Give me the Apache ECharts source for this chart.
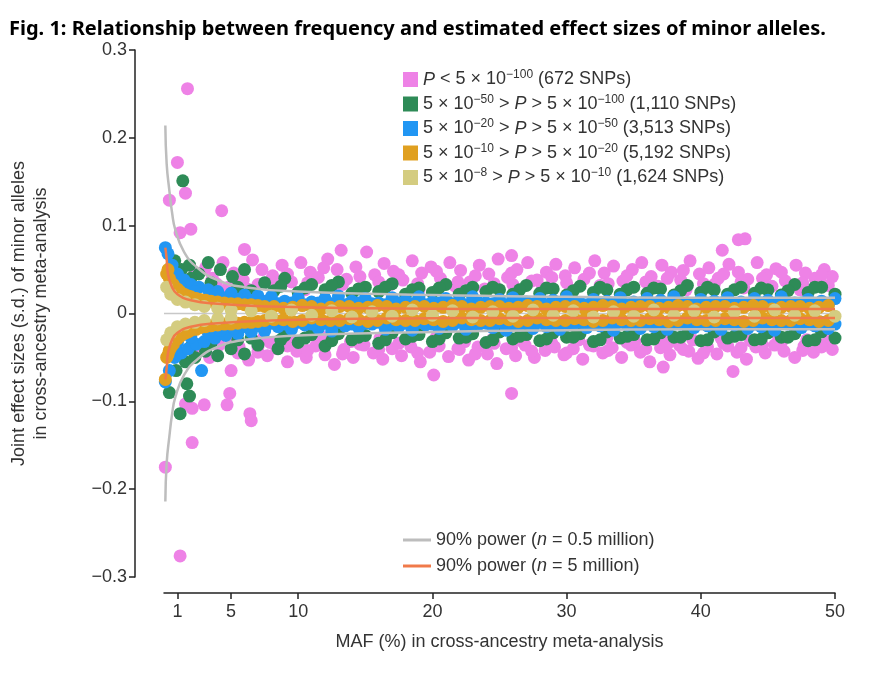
<!DOCTYPE html>
<html><head><meta charset="utf-8">
<script src="https://cdn.jsdelivr.net/npm/echarts@6/dist/echarts.min.js"></script>
<style>html,body{margin:0;background:#fff}#c{width:881px;height:683px}</style>
</head><body><div id="c"></div>
<script>
const xTicks=[1,5,10,20,30,40,50];
const yTicks=[-0.3,-0.2,-0.1,0,0.1,0.2,0.3];
const pinkPts=[[1.75,0.256],[1.0,0.172],[0.4,0.129],[1.6,0.137],[4.3,0.117],[1.2,0.092],[2.0,0.096],[6,0.073],[43.3,0.085],[42.8,0.084],[41.6,0.072],[25.9,0.066],[13.2,0.072],
[2.3,0.045],[3.1,0.052],[3.6,0.04],[4.4,0.058],[5.2,0.046],[5.9,0.038],[6.6,0.061],[7.3,0.05],[8.1,0.043],[8.8,0.055],[9.5,0.036],[10.2,0.058],[10.9,0.047],[11.5,0.041],[12.2,0.062],[12.9,0.05],[13.6,0.039],[14.3,0.053],[15.1,0.07],[15.7,0.044],[16.4,0.057],[17.1,0.048],[17.8,0.038],[18.5,0.06],[19.2,0.046],[19.9,0.053],[20.6,0.04],[21.3,0.058],[22.1,0.049],[22.8,0.036],[23.5,0.055],[24.2,0.045],[24.9,0.062],[25.6,0.041],[26.3,0.05],[27.1,0.058],[27.8,0.038],[28.5,0.047],[29.2,0.056],[29.9,0.043],[30.6,0.052],[31.3,0.039],[32.1,0.06],[32.8,0.046],[33.5,0.054],[34.2,0.037],[34.9,0.05],[35.6,0.058],[36.3,0.042],[37.1,0.055],[37.8,0.047],[38.5,0.038],[39.2,0.06],[39.9,0.045],[40.6,0.052],[41.3,0.04],[42.1,0.056],[42.8,0.047],[43.5,0.039],[44.2,0.058],[44.9,0.044],[45.6,0.051],[46.3,0.037],[47.1,0.055],[47.8,0.046],[48.5,0.04],[49.2,0.05],[49.8,0.042],
[4.8,0.03],[6.2,0.028],[8.5,0.032],[10.5,0.027],[12.6,0.031],[14.8,0.029],[16.9,0.033],[19,0.027],[21.7,0.031],[23.9,0.028],[26,0.033],[28.2,0.029],[30.3,0.027],[32.5,0.032],[34.6,0.028],[36.8,0.031],[38.9,0.027],[41,0.033],[43.2,0.029],[45.3,0.031],[47.4,0.027],[49.5,0.032],
[3.9,0.034],[5.6,0.041],[7,0.033],[7.9,0.037],[9.2,0.045],[10.7,0.035],[11.9,0.052],[13.3,0.033],[14.6,0.042],[16,0.036],[17.5,0.044],[18.9,0.034],[20.3,0.048],[21.9,0.036],[23.2,0.043],[24.6,0.034],[25.9,0.046],[27.4,0.037],[28.9,0.041],[30,0.035],[31.7,0.046],[33.1,0.034],[34.5,0.043],[35.9,0.036],[37.5,0.04],[38.7,0.049],[40.2,0.034],[41.7,0.045],[43,0.036],[44.6,0.04],[46,0.047],[47.6,0.035],[49,0.044],
[0.1,-0.175],[2.1,-0.147],[1.2,-0.276],[3,-0.104],[4.9,-0.091],[4.7,-0.104],[6.4,-0.114],[6.5,-0.122],[5,-0.065],[1.6,-0.103],[2.1,-0.108],[25.9,-0.091],[20.1,-0.07],[42.4,-0.066],[37.2,-0.061],
[2.6,-0.042],[3.4,-0.05],[4.1,-0.036],[5.5,-0.045],[6.3,-0.053],[7,-0.038],[7.7,-0.048],[8.4,-0.04],[9.2,-0.055],[9.9,-0.043],[10.6,-0.05],[11.3,-0.037],[12,-0.047],[12.7,-0.058],[13.4,-0.041],[14.1,-0.05],[14.9,-0.036],[15.6,-0.045],[16.3,-0.052],[17,-0.04],[17.7,-0.048],[18.4,-0.038],[19.1,-0.055],[19.8,-0.044],[20.5,-0.037],[21.2,-0.049],[22,-0.041],[22.7,-0.053],[23.4,-0.038],[24.1,-0.046],[24.8,-0.057],[25.5,-0.04],[26.2,-0.048],[26.9,-0.036],[27.6,-0.05],[28.4,-0.042],[29.1,-0.038],[29.8,-0.047],[30.5,-0.04],[31.2,-0.052],[32,-0.037],[32.7,-0.045],[33.4,-0.039],[34.1,-0.05],[34.8,-0.036],[35.5,-0.044],[36.2,-0.055],[37,-0.039],[37.7,-0.047],[38.4,-0.036],[39.1,-0.043],[39.8,-0.051],[40.5,-0.038],[41.2,-0.046],[42,-0.037],[42.7,-0.044],[43.4,-0.052],[44.1,-0.038],[44.8,-0.045],[45.5,-0.036],[46.2,-0.043],[47,-0.05],[47.7,-0.037],[48.4,-0.044],[49.1,-0.036],[49.8,-0.041],
[5,-0.03],[7.4,-0.028],[9.6,-0.031],[11.8,-0.027],[13.9,-0.032],[16.1,-0.028],[18.2,-0.03],[20.3,-0.027],[22.4,-0.032],[24.5,-0.029],[26.6,-0.031],[28.8,-0.027],[30.9,-0.03],[33,-0.028],[35.1,-0.032],[37.3,-0.027],[39.4,-0.03],[41.5,-0.028],[43.7,-0.031],[45.8,-0.027],[47.9,-0.03],[49.6,-0.028],
[3.9,-0.035],[5.6,-0.038],[7,-0.044],[7.9,-0.033],[9.2,-0.037],[10.7,-0.042],[11.9,-0.034],[13.3,-0.046],[14.6,-0.035],[16,-0.041],[17.5,-0.034],[18.9,-0.045],[20.3,-0.035],[21.9,-0.04],[23.2,-0.046],[24.6,-0.034],[25.9,-0.039],[27.4,-0.043],[28.9,-0.034],[30,-0.045],[31.7,-0.036],[33.1,-0.042],[34.5,-0.033],[35.9,-0.04],[37.5,-0.035],[38.7,-0.041],[40.2,-0.045],[41.7,-0.034],[43,-0.039],[44.6,-0.036],[46,-0.033],[47.6,-0.042],[49,-0.038]];
const greenPts=[[1.4,0.151],[0.8,0.06],[1.3,0.05],[1.9,0.055],[2.6,0.045],[3.3,0.058],[4.2,0.05],[5.1,0.042],[6,0.05],[7.5,0.035],[9,0.04],[11,0.033],[13,0.036],[15,0.03],[17,0.034],[19,0.029],[21,0.033],[23,0.03],[25,0.027],[27,0.032],[29,0.028],[31,0.031],[33,0.027],[35,0.03],[37,0.028],[39,0.032],[41,0.027],[43,0.03],[45,0.027],[47,0.033],[49,0.03],[8.2,0.026],[10,0.024],[12,0.027],[14,0.023],[16,0.025],[18,0.022],[20,0.024],[22,0.022],[24,0.025],[26,0.022],[28,0.023],[30,0.021],[32,0.024],[34,0.022],[36,0.023],[38,0.021],[40,0.024],[42,0.022],[44,0.023],[46,0.021],[48,0.024],[50,0.022],
[2,0.04],[3.5,0.035],[5.5,0.03],[6.5,0.026],[8.7,0.031],[10.5,0.029],[12.5,0.032],[14.5,0.028],[16.5,0.03],[18.5,0.027],[20.5,0.029],[22.5,0.026],[24.5,0.03],[26.5,0.027],[28.5,0.029],[30.5,0.026],[32.5,0.03],[34.5,0.027],[36.5,0.029],[38.5,0.026],[40.5,0.03],[42.5,0.027],[44.5,0.029],[46.5,0.026],[48.5,0.03],
[0.4,-0.09],[1.2,-0.114],[1.9,-0.094],[1.7,-0.08],[0.9,-0.065],[1.6,-0.055],[2.3,-0.05],[3.1,-0.043],[4,-0.048],[5,-0.04],[6,-0.046],[7,-0.036],[8.5,-0.04],[10,-0.033],[12,-0.037],[14,-0.03],[16,-0.034],[18,-0.029],[20,-0.032],[22,-0.028],[24,-0.033],[26,-0.029],[28,-0.031],[30,-0.027],[32,-0.032],[34,-0.028],[36,-0.03],[38,-0.027],[40,-0.031],[42,-0.028],[44,-0.03],[46,-0.027],[48,-0.031],[50,-0.028],[9,-0.025],[11,-0.024],[13,-0.023],[15,-0.025],[17,-0.022],[19,-0.024],[21,-0.022],[23,-0.023],[25,-0.021],[27,-0.024],[29,-0.022],[31,-0.023],[33,-0.021],[35,-0.024],[37,-0.022],[39,-0.023],[41,-0.021],[43,-0.024],[45,-0.022],[47,-0.023],[49,-0.021],
[2,-0.038],[3.5,-0.034],[5.5,-0.03],[6.5,-0.028],[8.7,-0.03],[10.5,-0.028],[12.5,-0.031],[14.5,-0.027],[16.5,-0.03],[18.5,-0.026],[20.5,-0.029],[22.5,-0.027],[24.5,-0.03],[26.5,-0.026],[28.5,-0.029],[30.5,-0.027],[32.5,-0.03],[34.5,-0.026],[36.5,-0.029],[38.5,-0.027],[40.5,-0.03],[42.5,-0.026],[44.5,-0.029],[46.5,-0.027],[48.5,-0.03]];
const bluePts=[[0.1,0.075],[0.3,0.068],[0.6,0.055],[1,0.045],[1.5,0.038],[2,0.033],[2.6,0.03],[3.3,0.027],[4,0.025],[5,0.023],[6,0.021],[7,0.02],[8,0.019],
[9,0.014],[10,0.018],[11,0.013],[12,0.017],[13,0.02],[14,0.014],[15,0.017],[16,0.012],[17,0.018],[18,0.015],[19,0.019],[20,0.013],[21,0.017],[22,0.014],[23,0.019],[24,0.012],[25,0.016],[26,0.018],[27,0.013],[28,0.017],[29,0.015],[30,0.019],[31,0.012],[32,0.016],[33,0.014],[34,0.018],[35,0.013],[36,0.017],[37,0.015],[38,0.019],[39,0.012],[40,0.016],[41,0.014],[42,0.018],[43,0.013],[44,0.017],[45,0.015],[46,0.019],[47,0.012],[48,0.016],[49,0.014],[50,0.017],
[1.2,0.03],[2.3,0.025],[3.6,0.021],[4.6,0.018],[5.6,0.016],[6.6,0.015],[7.6,0.014],[8.5,0.011],[9.5,0.012],[10.5,0.01],[11.5,0.012],[12.5,0.011],[13.5,0.01],[14.5,0.012],[15.5,0.011],[16.5,0.01],[17.5,0.012],[18.5,0.011],[19.5,0.01],[20.5,0.012],[21.5,0.011],[22.5,0.01],[23.5,0.012],[24.5,0.011],[25.5,0.01],[26.5,0.012],[27.5,0.011],[28.5,0.01],[29.5,0.012],[30.5,0.011],[31.5,0.01],[32.5,0.012],[33.5,0.011],[34.5,0.01],[35.5,0.012],[36.5,0.011],[37.5,0.01],[38.5,0.012],[39.5,0.011],[40.5,0.01],[41.5,0.012],[42.5,0.011],[43.5,0.01],[44.5,0.012],[45.5,0.011],[46.5,0.01],[47.5,0.012],[48.5,0.011],[49.5,0.01],
[0.1,-0.078],[0.4,-0.065],[0.8,-0.05],[1.3,-0.045],[2.8,-0.065],[1.8,-0.04],[2.4,-0.035],[3,-0.032],[3.8,-0.028],[4.6,-0.025],[5.5,-0.023],[6.5,-0.021],[7.5,-0.02],
[8.5,-0.015],[9.5,-0.018],[10.5,-0.013],[11.5,-0.017],[12.5,-0.02],[13.5,-0.014],[14.5,-0.016],[15.5,-0.012],[16.5,-0.018],[17.5,-0.015],[18.5,-0.019],[19.5,-0.013],[20.5,-0.017],[21.5,-0.014],[22.5,-0.018],[23.5,-0.012],[24.5,-0.016],[25.5,-0.019],[26.5,-0.013],[27.5,-0.017],[28.5,-0.015],[29.5,-0.018],[30.5,-0.012],[31.5,-0.016],[32.5,-0.014],[33.5,-0.019],[34.5,-0.013],[35.5,-0.017],[36.5,-0.015],[37.5,-0.018],[38.5,-0.012],[39.5,-0.016],[40.5,-0.014],[41.5,-0.018],[42.5,-0.013],[43.5,-0.017],[44.5,-0.015],[45.5,-0.019],[46.5,-0.012],[47.5,-0.016],[48.5,-0.014],[49.5,-0.017],
[1,-0.033],[2,-0.027],[3.3,-0.022],[4.2,-0.019],[5.2,-0.017],[6.1,-0.015],[7.1,-0.014],[8,-0.011],[9,-0.012],[10,-0.01],[11,-0.012],[12,-0.011],[13,-0.01],[14,-0.012],[15,-0.011],[16,-0.01],[17,-0.012],[18,-0.011],[19,-0.01],[20,-0.012],[21,-0.011],[22,-0.01],[23,-0.012],[24,-0.011],[25,-0.01],[26,-0.012],[27,-0.011],[28,-0.01],[29,-0.012],[30,-0.011],[31,-0.01],[32,-0.012],[33,-0.011],[34,-0.01],[35,-0.012],[36,-0.011],[37,-0.01],[38,-0.012],[39,-0.011],[40,-0.01],[41,-0.012],[42,-0.011],[43,-0.01],[44,-0.012],[45,-0.011],[46,-0.01],[47,-0.012],[48,-0.011],[49,-0.01],[50,-0.012]];
const orangePts=[[0.2,0.045],[0.4,0.04],[0.7,0.033],[1,0.028],[1.5,0.022],[2,0.019],[2.7,0.016],[3.5,0.014],[4.5,0.012],[5.5,0.011],[6.5,0.01],
[7.5,0.008],[8.9,0.006],[10.3,0.009],[11.7,0.005],[13.1,0.008],[14.5,0.006],[15.9,0.009],[17.3,0.005],[18.7,0.008],[20.1,0.006],[21.5,0.009],[22.9,0.005],[24.3,0.008],[25.7,0.006],[27.1,0.009],[28.5,0.005],[29.9,0.008],[31.3,0.006],[32.7,0.009],[34.1,0.005],[35.5,0.008],[36.9,0.006],[38.3,0.009],[39.7,0.005],[41.1,0.008],[42.5,0.006],[43.9,0.009],[45.3,0.005],[46.7,0.008],[48.1,0.006],[49.5,0.009],
[0.3,0.05],[0.5,0.036],[1.2,0.025],[1.8,0.02],[2.4,0.017],[3.1,0.015],[4,0.013],[5,0.011],[6,0.01],[7,0.009],[8.2,0.008],[9.6,0.007],[11,0.008],[12.4,0.007],[13.8,0.008],[15.2,0.007],[16.6,0.008],[18,0.007],[19.4,0.008],[20.8,0.007],[22.2,0.008],[23.6,0.007],[25,0.008],[26.4,0.007],[27.8,0.008],[29.2,0.007],[30.6,0.008],[32,0.007],[33.4,0.008],[34.8,0.007],[36.2,0.008],[37.6,0.007],[39,0.008],[40.4,0.007],[41.8,0.008],[43.2,0.007],[44.6,0.008],[46,0.007],[47.4,0.008],[48.8,0.007],
[0.1,-0.075],[0.2,-0.05],[0.4,-0.042],[0.7,-0.035],[1,-0.029],[1.5,-0.023],[2,-0.019],[2.7,-0.016],[3.5,-0.014],[4.5,-0.012],[5.5,-0.011],[6.5,-0.01],
[8.2,-0.007],[9.6,-0.009],[11,-0.005],[12.4,-0.008],[13.8,-0.006],[15.2,-0.009],[16.6,-0.005],[18,-0.008],[19.4,-0.006],[20.8,-0.009],[22.2,-0.005],[23.6,-0.008],[25,-0.006],[26.4,-0.009],[27.8,-0.005],[29.2,-0.008],[30.6,-0.006],[32,-0.009],[33.4,-0.005],[34.8,-0.008],[36.2,-0.006],[37.6,-0.009],[39,-0.005],[40.4,-0.008],[41.8,-0.006],[43.2,-0.009],[44.6,-0.005],[46,-0.008],[47.4,-0.006],[48.8,-0.009],
[0.3,-0.047],[0.55,-0.038],[1.2,-0.026],[1.8,-0.021],[2.4,-0.018],[3.1,-0.015],[4,-0.013],[5,-0.012],[6,-0.01],[7,-0.009],[7.5,-0.008],[8.9,-0.007],[10.3,-0.008],[11.7,-0.007],[13.1,-0.008],[14.5,-0.007],[15.9,-0.008],[17.3,-0.007],[18.7,-0.008],[20.1,-0.007],[21.5,-0.008],[22.9,-0.007],[24.3,-0.008],[25.7,-0.007],[27.1,-0.008],[28.5,-0.007],[29.9,-0.008],[31.3,-0.007],[32.7,-0.008],[34.1,-0.007],[35.5,-0.008],[36.9,-0.007],[38.3,-0.008],[39.7,-0.007],[41.1,-0.008],[42.5,-0.007],[43.9,-0.008],[45.3,-0.007],[46.7,-0.008],[48.1,-0.007],[49.5,-0.008]];
const khakiPts=[[0.2,0.03],[0.2,-0.03],[0.5,0.022],[0.5,-0.022],[1,0.016],[1,-0.015],[1.6,0.013],[1.6,-0.012],[2.3,0.01],[2.3,-0.01],[3,0.008],[3,-0.008],[4,0.006],[4,-0.006],[5,0.004],[5,-0.005],
[6.5,0.003],[8,-0.003],[9.5,0.004],[11,-0.002],[12.5,0.003],[14,-0.004],[15.5,0.002],[17,-0.003],[18.5,0.004],[20,-0.002],[21.5,0.003],[23,-0.004],[24.5,0.002],[26,-0.003],[27.5,0.004],[29,-0.002],[30.5,0.003],[32,-0.004],[33.5,0.002],[35,-0.003],[36.5,0.004],[38,-0.002],[39.5,0.003],[41,-0.004],[42.5,0.002],[44,-0.003],[45.5,0.004],[47,-0.002],[48.5,0.003],[50,-0.003]];
const grayCurve=[[0.1,0.214],[0.2,0.17],[0.4,0.14],[0.6,0.115],[0.85,0.095],[1.5,0.07],[2.5,0.052],[4,0.038],[6,0.03],[10,0.025],[20,0.021],[30,0.019],[40,0.018],[50,0.018]];
const orangeCurve=[[0.1,0.075],[0.2,0.062],[0.3,0.045],[0.6,0.03],[1,0.022],[2,0.015],[4,0.011],[8,0.008],[15,0.006],[30,0.005],[50,0.005]];
const legendNames=['{i|P} < 5 × 10{s|−100} (672 SNPs)','5 × 10{s|−50} > {i|P} > 5 × 10{s|−100} (1,110 SNPs)','5 × 10{s|−20} > {i|P} > 5 × 10{s|−50} (3,513 SNPs)','5 × 10{s|−10} > {i|P} > 5 × 10{s|−20} (5,192 SNPs)','5 × 10{s|−8} > {i|P} > 5 × 10{s|−10} (1,624 SNPs)'];
const lineNames=['90% power ({i|n} = 0.5 million)','90% power ({i|n} = 5 million)'];

const colors=['#ee82e6','#2e8b57','#2196f3','#e0a020','#d4cc80'];
const ptsets=[pinkPts,greenPts,bluePts,orangePts,khakiPts];
const FF='Liberation Sans, Arial, sans-serif';
const TC='#333';
const rich={i:{fontStyle:'italic',fontSize:18,fontFamily:FF,color:TC},s:{fontSize:12,fontFamily:FF,color:TC,padding:[0,0,9,0]}};
const mirror=a=>a.map(p=>[p[0],-p[1]]);
const series=[];
ptsets.forEach((d,k)=>series.push({name:'S'+k,type:'scatter',data:d,symbolSize:13,itemStyle:{color:colors[k],opacity:1},z:2+k}));
series.push({name:'zero',type:'line',data:[[0,0],[52,0]],symbol:'none',lineStyle:{color:'#c8c8c8',width:1.5},z:1});
series.push({name:'L0',type:'line',data:grayCurve,smooth:true,symbol:'none',lineStyle:{color:'#bdbdbd',width:2.5},color:'#bdbdbd',z:10});
series.push({name:'L0b',type:'line',data:mirror(grayCurve),smooth:true,symbol:'none',lineStyle:{color:'#bdbdbd',width:2.5},z:10});
series.push({name:'L1',type:'line',data:orangeCurve,smooth:true,symbol:'none',lineStyle:{color:'#f07a4a',width:2.5},color:'#f07a4a',z:11});
series.push({name:'L1b',type:'line',data:mirror(orangeCurve),smooth:true,symbol:'none',lineStyle:{color:'#f07a4a',width:2.5},z:11});
const chart=echarts.init(document.getElementById('c'),null,{renderer:'canvas'});
chart.setOption({
  animation:false,
  title:{text:'Fig. 1: Relationship between frequency and estimated effect sizes of minor alleles.',left:4,top:14,textStyle:{fontSize:20,fontWeight:'bold',fontFamily:'Noto Sans, sans-serif',color:'#000'}},
  grid:{left:161,right:46,top:50,bottom:106},
  legend:[{data:['S0','S1','S2','S3','S4'],left:398,top:64,orient:'vertical',itemGap:5,itemWidth:15,itemHeight:15,icon:'rect',
     formatter:n=>legendNames[+n[1]],textStyle:{fontSize:18,fontFamily:FF,color:TC,rich}},
    {data:['L0','L1'],left:398,top:526,orient:'vertical',itemGap:8,itemWidth:28,itemHeight:3,icon:'rect',
     formatter:n=>lineNames[+n[1]],textStyle:{fontSize:18,fontFamily:FF,color:TC,rich}}],
  xAxis:{type:'value',min:0,max:50,offset:16,
    axisLine:{show:true,onZero:false,lineStyle:{color:'#222',width:1.5}},
    axisTick:{show:true,customValues:xTicks,length:6,lineStyle:{color:'#222',width:1.5}},
    axisLabel:{customValues:xTicks,fontSize:18,fontFamily:FF,color:TC,margin:10},
    splitLine:{show:false},
    name:'MAF (%) in cross-ancestry meta-analysis',nameLocation:'middle',nameGap:40,nameTextStyle:{fontSize:18,fontFamily:FF,color:TC}},
  yAxis:{type:'value',min:-0.3,max:0.3,interval:0.1,offset:29,
    axisLine:{show:true,onZero:false,lineStyle:{color:'#222',width:1.5}},
    axisTick:{show:true,length:6,lineStyle:{color:'#222',width:1.5}},
    axisLabel:{fontSize:18,fontFamily:FF,color:TC,formatter:v=>{const r=Math.round(v*10)/10;return r===0?'0':(r<0?'−'+(-r).toFixed(1):r.toFixed(1));}},
    splitLine:{show:false},
    name:'Joint effect sizes (s.d.) of minor alleles\nin cross-ancestry meta-analysis',nameLocation:'middle',nameGap:83,nameTextStyle:{fontSize:18,fontFamily:FF,color:TC,lineHeight:22}},
  series
});
</script></body></html>
